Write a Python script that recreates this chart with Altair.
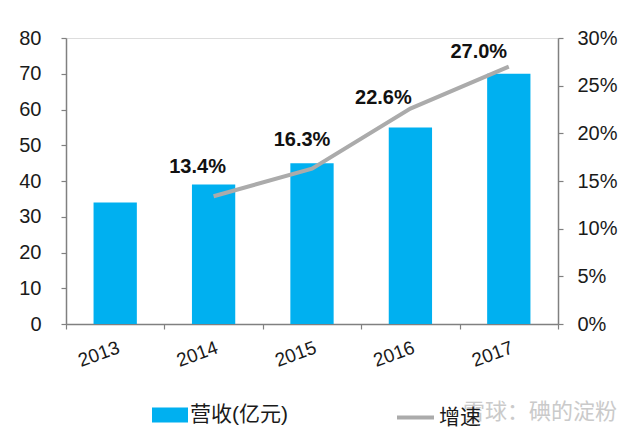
import altair as alt
import pandas as pd

years = ["2013", "2014", "2015", "2016", "2017"]
revenue = [34, 39, 45, 55, 70]
growth_years = ["2014", "2015", "2016", "2017"]
growth = [0.134, 0.163, 0.226, 0.270]
growth_labels = ["13.4%", "16.3%", "22.6%", "27.0%"]
bar_name = "营收(亿元)"
line_name = "增速"
watermark = "雪球：碘的淀粉"

# label offsets (style only)
label_offsets = [(-16, -29), (-10, -29), (-27, -11), (-30, -15)]

FONT = "Liberation Sans, Noto Sans CJK SC"
AX = "#808080"
TXT = "#1a1a1a"

bar_df = pd.DataFrame({"year": years, "rev": revenue, "s": [bar_name] * len(years)})
line_df = pd.DataFrame({"year": growth_years, "g": growth, "lab": growth_labels,
                        "s": [line_name] * len(growth_years)})

x_enc = alt.X("year:N", sort=years,
              scale=alt.Scale(domain=years, paddingInner=0, paddingOuter=0),
              axis=alt.Axis(title=None, labelAngle=340, tickBand="extent", tickSize=5,
                            labelPadding=9, labelFontSize=19, labelFont=FONT,
                            labelColor=TXT, domainColor=AX, tickColor=AX,
                            domainWidth=1.5, tickWidth=1.2))

bars = alt.Chart(bar_df).mark_bar(width=alt.RelativeBandSize(0.44)).encode(
    x=x_enc,
    y=alt.Y("rev:Q", scale=alt.Scale(domain=[0, 80], nice=False),
            axis=alt.Axis(title=None, values=list(range(0, 90, 10)), grid=False,
                          tickSize=5, labelPadding=20, labelFontSize=20, labelFont=FONT,
                          labelColor=TXT, domainColor=AX, tickColor=AX,
                          domainWidth=1.5, tickWidth=1.2)),
    color=alt.Color("s:N", scale=alt.Scale(domain=[bar_name], range=["#00B0F0"]),
                    legend=alt.Legend(orient="none", legendX=86, legendY=359, title=None,
                                      symbolType="M-1,-0.42H1V0.42H-1Z", symbolSize=1296,
                                      symbolStrokeWidth=0, symbolOpacity=1,
                                      labelFontSize=21, labelFont=FONT, labelColor=TXT,
                                      labelOffset=2)),
)

y_right = alt.Y("g:Q", scale=alt.Scale(domain=[0, 0.3], nice=False),
                axis=alt.Axis(title=None, orient="right", format=".0%",
                              values=[0, 0.05, 0.1, 0.15, 0.2, 0.25, 0.3], grid=False,
                              tickSize=5, labelPadding=14, labelFontSize=20, labelFont=FONT,
                              labelColor=TXT, domainColor=AX, tickColor=AX,
                              domainWidth=1.5, tickWidth=1.2))

line = alt.Chart(line_df).mark_line(strokeWidth=4).encode(
    x=alt.X("year:N", sort=years),
    y=y_right,
    stroke=alt.Stroke("s:N", scale=alt.Scale(domain=[line_name], range=["#ABABAB"]),
                      legend=alt.Legend(orient="none", legendX=329, legendY=359, title=None,
                                        symbolType="stroke", symbolSize=1369,
                                        symbolStrokeWidth=4,
                                        labelFontSize=21, labelFont=FONT, labelColor=TXT,
                                        labelOffset=3)),
)

texts = []
for yr, (dx, dy) in zip(growth_years, label_offsets):
    t = alt.Chart(line_df).transform_filter(alt.datum.year == yr).mark_text(
        dx=dx, dy=dy, fontSize=20, fontWeight="bold", font=FONT, color="#111111",
        baseline="middle", align="center"
    ).encode(x=alt.X("year:N", sort=years), y=alt.Y("g:Q"), text="lab:N")
    texts.append(t)

wm = alt.Chart(pd.DataFrame({"t": [watermark]})).mark_text(
    align="left", baseline="middle", fontSize=22, font=FONT, color="#bdbdbd", opacity=0.8
).encode(x=alt.value(397), y=alt.value(374), text="t:N")

right = alt.layer(line, *texts)
chart = alt.layer(bars, right, wm).resolve_scale(y="independent", color="independent").properties(
    width=492, height=286,
    autosize=alt.AutoSizeParams(type="none"),
    padding={"left": 66, "top": 38, "right": 82, "bottom": 109},
).configure_view(stroke=None).configure(background="white")

chart.save("out.html", embed_options={"renderer": "svg", "actions": False})
